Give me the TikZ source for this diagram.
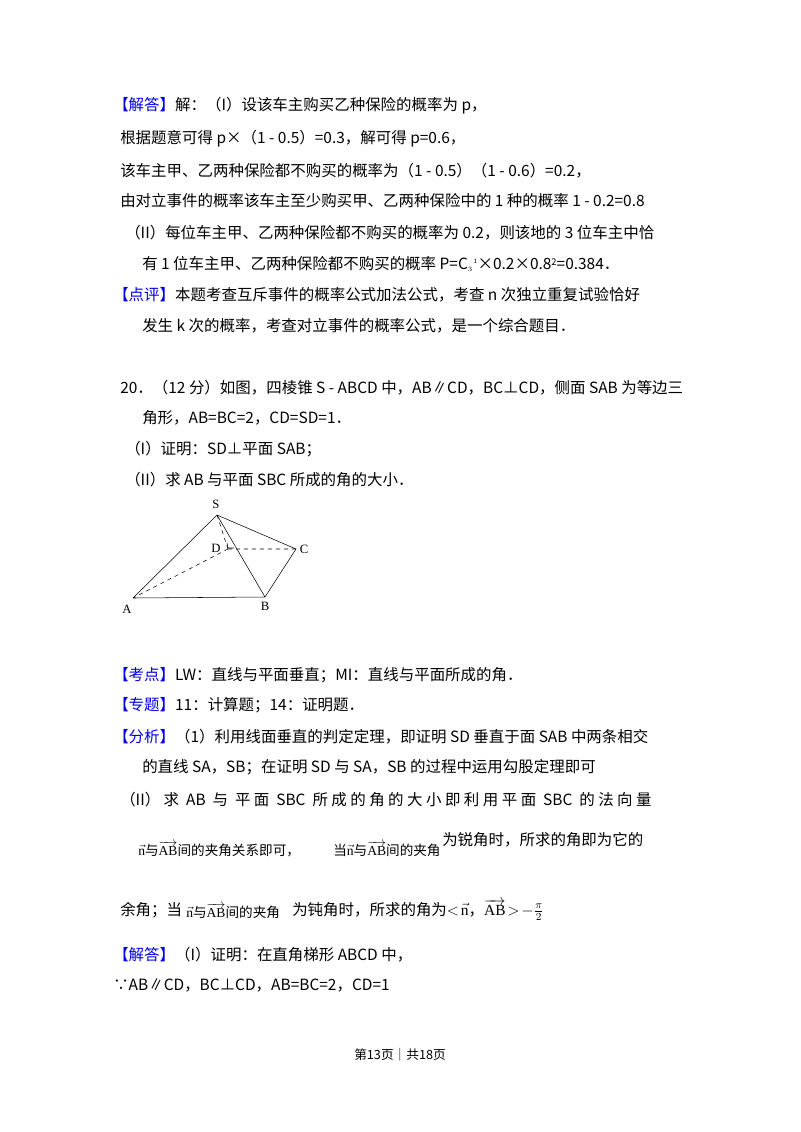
\documentclass[tikz,border=0pt]{standalone}
\usepackage{fontspec}
\usepackage{amsmath}
\usetikzlibrary{calc}
\setmainfont{Liberation Serif}
\newfontfamily\cjk{Noto Sans CJK SC}
\definecolor{lblue}{RGB}{0,0,230}
\begin{document}
\begin{tikzpicture}[x=0.75pt,y=-0.75pt,
  t/.style={anchor=west,inner sep=0pt,font=\cjk\fontsize{11.6pt}{14pt}\selectfont},
  sm/.style={anchor=west,inner sep=0pt,font=\cjk\fontsize{10.2pt}{12pt}\selectfont},
  lab/.style={inner sep=1pt,font=\fontsize{9.5pt}{10pt}\selectfont}]
\useasboundingbox[fill=white] (0,0) rectangle (800,1132);
\newcommand{\bl}[1]{\textcolor{lblue}{【#1】}}
\node[t] (l1) at (113,106) {\bl{解答}解：（I）设该车主购买乙种保险的概率为 p，};
\node[t] (l2) at (120,139) {根据题意可得 p×（1 - 0.5）=0.3，解可得 p=0.6，};
\node[t] (l3) at (120,171) {该车主甲、乙两种保险都不购买的概率为（1 - 0.5）（1 - 0.6）=0.2，};
\node[t] (l4) at (120,201) {由对立事件的概率该车主至少购买甲、乙两种保险中的 1 种的概率 1 - 0.2=0.8};
\node[t] (l5) at (125,233) {（II）每位车主甲、乙两种保险都不购买的概率为 0.2，则该地的 3 位车主中恰};
\node[t] (l6) at (142,264) {有 1 位车主甲、乙两种保险都不购买的概率 P=C{\scriptsize$_3$\raisebox{1.2ex}{$\scriptscriptstyle 1$}}×0.2×0.8{\scriptsize\raisebox{0.9ex}{2}}=0.384．};
\node[t] (l7) at (113,295) {\bl{点评}本题考查互斥事件的概率公式加法公式，考查 n 次独立重复试验恰好};
\node[t] (l8) at (142,326) {发生 k 次的概率，考查对立事件的概率公式，是一个综合题目．};
\node[t] (l9) at (120,388) {20．（12 分）如图，四棱锥 S - ABCD 中，AB∥CD，BC⊥CD，侧面 SAB 为等边三};
\node[t] (l10) at (142,418) {角形，AB=BC=2，CD=SD=1．};
\node[t] (l11) at (125,449) {（I）证明：SD⊥平面 SAB；};
\node[t] (l12) at (125,480) {（II）求 AB 与平面 SBC 所成的角的大小．};
% figure
\coordinate (S) at (217,515);
\coordinate (D) at (228,549);
\coordinate (C) at (296,549);
\coordinate (A) at (133,598);
\coordinate (B) at (265,597);
\draw[thin] (S)--(A) (S)--(B) (S)--(C) (A)--(B) (B)--(C);
\draw[thin,dashed] (S)--(D) (D)--(C) (D)--(A);
\draw[thin] ($(D)+(-1,-6)$) -- ($(D)+(0,-1)$) -- ($(D)+(6,-1)$);
\node[lab] (nS) at (216,504) {S};
\node[lab] (nD) at (216,548) {D};
\node[lab] (nC) at (304,549) {C};
\node[lab] (nA) at (127,609) {A};
\node[lab] (nB) at (265,606) {B};
\node[t] (l13) at (113,675) {\bl{考点}LW：直线与平面垂直；MI：直线与平面所成的角．};
\node[t] (l14) at (113,705) {\bl{专题}11：计算题；14：证明题．};
\node[t] (l15) at (113,737) {\bl{分析}（1）利用线面垂直的判定定理，即证明 SD 垂直于面 SAB 中两条相交};
\node[t] (l16) at (142,767) {的直线 SA，SB；在证明 SD 与 SA，SB 的过程中运用勾股定理即可};
\node[t] (l17) at (120,800) {（II）\ 求\ \ AB\ \ 与\ \ 平\ 面\ \ SBC\ \ 所\ 成\ 的\ 角\ 的\ 大\ 小\ 即\ 利\ 用\ 平\ 面\ \ SBC\ \ 的\ 法\ 向\ 量};
\node[sm] (l18a) at (138,849) {$\vec{\mathrm{n}}$与$\overrightarrow{\mathrm{AB}}$间的夹角关系即可，};
\node[sm] (l18b) at (333,849) {当$\vec{\mathrm{n}}$与$\overrightarrow{\mathrm{AB}}$间的夹角};
\node[t] (l18c) at (442,840) {为锐角时，所求的角即为它的};
\node[t] (l19a) at (120,910) {余角；当};
\node[sm] (l19b) at (186,911) {$\vec{\mathrm{n}}$与$\overrightarrow{\mathrm{AB}}$间的夹角};
\node[t] (l19c) at (292,910) {为钝角时，所求的角为$<\!\vec{\mathrm{n}}$，$\overrightarrow{\mathrm{AB}}\!>\!-\frac{\pi}{2}$};
\node[t] (l20) at (113,955) {\bl{解答}（I）证明：在直角梯形 ABCD 中，};
\node[t] (l21) at (113,985) {∵AB∥CD，BC⊥CD，AB=BC=2，CD=1};
\node[anchor=center,inner sep=0pt,font=\cjk\fontsize{9.5pt}{11pt}\selectfont] (ft) at (400,1055) {第13页｜共18页};
\end{tikzpicture}
\end{document}
